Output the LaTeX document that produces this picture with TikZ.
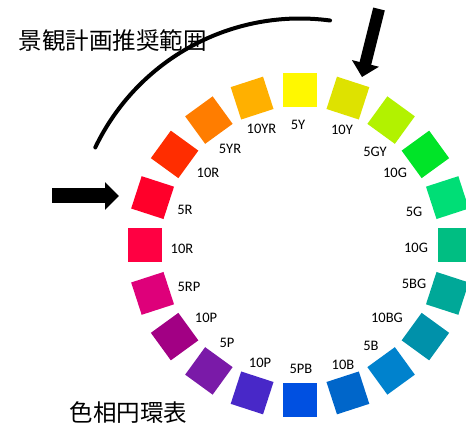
\documentclass[tikz,border=0pt]{standalone}
\usepackage{fontspec}
\setmainfont{Carlito}
\newfontfamily\cjk{Noto Sans CJK JP}
\usetikzlibrary{arrows.meta}
\definecolor{c0}{RGB}{255,248,0}
\definecolor{c1}{RGB}{222,226,0}
\definecolor{c2}{RGB}{178,242,0}
\definecolor{c3}{RGB}{0,228,40}
\definecolor{c4}{RGB}{0,222,118}
\definecolor{c5}{RGB}{0,190,130}
\definecolor{c6}{RGB}{0,168,152}
\definecolor{c7}{RGB}{0,145,170}
\definecolor{c8}{RGB}{0,130,205}
\definecolor{c9}{RGB}{0,102,202}
\definecolor{c10}{RGB}{0,80,225}
\definecolor{c11}{RGB}{72,40,200}
\definecolor{c12}{RGB}{122,26,168}
\definecolor{c13}{RGB}{162,0,132}
\definecolor{c14}{RGB}{222,0,122}
\definecolor{c15}{RGB}{255,0,66}
\definecolor{c16}{RGB}{255,0,42}
\definecolor{c17}{RGB}{255,45,0}
\definecolor{c18}{RGB}{255,125,0}
\definecolor{c19}{RGB}{255,176,0}
\tikzset{
  sqr/.style={minimum size=34pt,inner sep=0pt,draw=none},
  lab/.style={inner sep=0pt,font=\fontsize{14.5}{16}\selectfont},
  ttl/.style={inner sep=0pt,font=\cjk\fontsize{23.5}{26}\selectfont},
  bigarrow/.style={draw=black,-{Triangle[width=27pt,length=14pt]}},
}
\begin{document}
\begin{tikzpicture}[x=1pt,y=1pt]
\useasboundingbox (0,0) rectangle (466,428);
\clip (0,0) rectangle (466,428);
\coordinate (ctr) at (300,182.5);
\begin{scope}[shift={(ctr)}]
\foreach \k in {0,...,19}{
  \pgfmathsetmacro{\ang}{90-18*\k}
  \pgfmathsetmacro{\rot}{\ang-90}
  \node[sqr,fill=c\k,rotate=\rot] (sq\k) at (\ang:155pt) {};
}
\draw[line width=4pt,line cap=round] (154.4:227pt) arc[start angle=154.4,end angle=82.4,radius=227pt];
\end{scope}
% labels
\node[lab] (l0) at (298,303) {5Y};
\node[lab] (l1) at (342,298) {10Y};
\node[lab] (l2) at (375,276) {5GY};
\node[lab] (l3) at (395,255) {10G};
\node[lab] (l4) at (414,216) {5G};
\node[lab] (l5) at (416,180) {10G};
\node[lab] (l6) at (414,144) {5BG};
\node[lab] (l7) at (387,110) {10BG};
\node[lab] (l8) at (371,82) {5B};
\node[lab] (l9) at (343,63) {10B};
\node[lab] (l10) at (301,59) {5PB};
\node[lab] (l11) at (260,65) {10P};
\node[lab] (l12) at (227,85) {5P};
\node[lab] (l13) at (206,110) {10P};
\node[lab] (l14) at (189,141) {5RP};
\node[lab] (l15) at (182,179) {10R};
\node[lab] (l16) at (185,218) {5R};
\node[lab] (l17) at (208,255) {10R};
\node[lab] (l18) at (230,279.5) {5YR};
\node[lab] (l19) at (261.5,299) {10YR};
% titles
\node[ttl] (t1) at (113,387) {景観計画推奨範囲};
\node[ttl] (t2) at (128.5,15) {色相円環表};
% arrows
\coordinate (a1s) at (52,232);
\coordinate (a1e) at (119,232);
\draw[bigarrow,line width=15pt] (a1s) -- (a1e);
\coordinate (a2s) at (379,419);
\coordinate (a2e) at (362,351);
\draw[bigarrow,line width=12pt] (a2s) -- (a2e);
\end{tikzpicture}
\end{document}
